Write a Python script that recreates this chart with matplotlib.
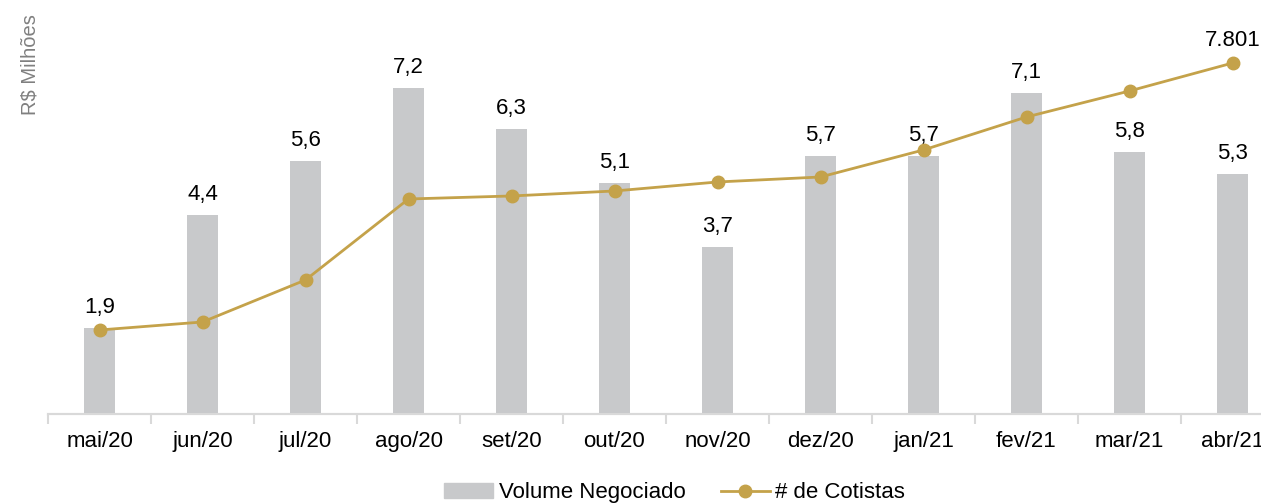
import matplotlib.pyplot as plt
from matplotlib.lines import Line2D
from matplotlib.patches import Patch
import numpy as np

meses = ['mai/20', 'jun/20', 'jul/20', 'ago/20', 'set/20', 'out/20',
         'nov/20', 'dez/20', 'jan/21', 'fev/21', 'mar/21', 'abr/21']
volume = [1.9, 4.4, 5.6, 7.2, 6.3, 5.1, 3.7, 5.7, 5.7, 7.1, 5.8, 5.3]
cotistas = [1867, 2045, 2979, 4779, 4846, 4957, 5157, 5268, 5869, 6602, 7180, 7801]

cor_barra = '#C8C9CB'
cor_linha = '#C4A24A'

plt.rcParams['font.family'] = ['Liberation Sans', 'DejaVu Sans']

fig = plt.figure(figsize=(12.61, 5.04), dpi=100)
ax = fig.add_axes([48 / 1261, 0.1786, 1236 / 1261, 0.7183])
x = np.arange(len(meses))

# -------- barras: volume negociado --------
ax.bar(x, volume, width=0.31, color=cor_barra, zorder=1)
for xi, v in zip(x, volume):
    ax.annotate(f'{v:.1f}'.replace('.', ','), (xi, v), xytext=(0, 7),
                textcoords='offset points', ha='center', va='bottom',
                fontsize=16, color='black')
ax.set_ylim(0, 8.0)
ax.set_xlim(-0.5, len(meses) - 0.5)

# -------- linha: cotistas (eixo secundário oculto) --------
ax2 = ax.twinx()
ax2.plot(x, cotistas, color=cor_linha, linewidth=2, marker='o',
         markersize=9, zorder=3)
ax2.set_ylim(0, 8047)
ax2.annotate(f'{cotistas[-1]:,}'.replace(',', '.'), (x[-1], cotistas[-1]),
             xytext=(0, 9), textcoords='offset points', ha='center',
             va='bottom', fontsize=16, annotation_clip=False)
ax2.set_yticks([])
for a in (ax, ax2):
    for s in ['left', 'right', 'top']:
        a.spines[s].set_visible(False)
    a.spines['bottom'].set_color('#D9D9D9')
    a.spines['bottom'].set_linewidth(1.5)

ax.set_yticks([])
ax.set_xticks(x)
ax.set_xticklabels(meses, fontsize=16)
ax.tick_params(axis='x', which='major', length=0, pad=12)
ax.set_xticks(np.arange(-0.5, len(meses), 1), minor=True)
ax.tick_params(axis='x', which='minor', length=7, width=1.5, color='#D9D9D9')

fig.text(30 / 1261, 1 - 14 / 504, 'R$ Milhões', rotation=90, ha='center',
         va='top', fontsize=14.5, color='#808080')

# -------- legenda --------
handles = [Patch(color=cor_barra),
           Line2D([0], [0], color=cor_linha, linewidth=2, marker='o', markersize=9)]
fig.legend(handles, ['Volume Negociado', '# de Cotistas'], loc='center',
           bbox_to_anchor=(0.535, 0.022), ncol=2, frameon=False, fontsize=16,
           handlelength=2.2, columnspacing=1.6, handletextpad=0.25)

fig.savefig('out.png', dpi=100)
